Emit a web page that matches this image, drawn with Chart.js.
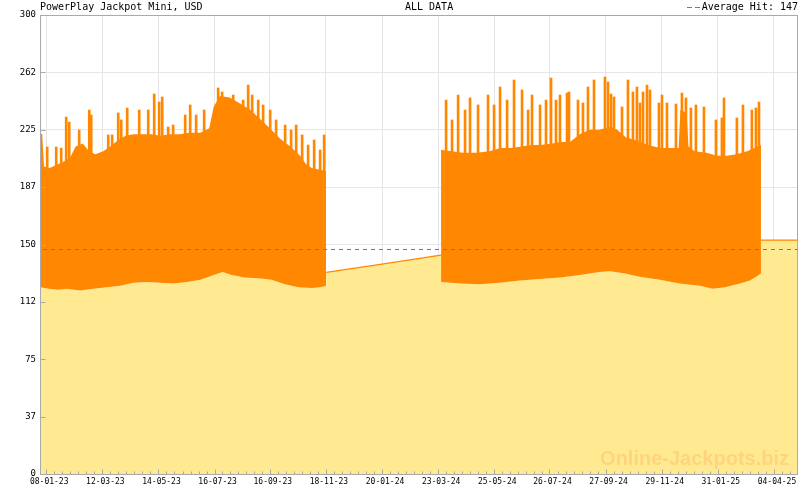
<!DOCTYPE html>
<html><head><meta charset="utf-8">
<script src="https://cdn.jsdelivr.net/npm/chart.js@4"></script>
<style>html,body{margin:0;padding:0;background:#fff}#wrap{width:800px;height:490px;position:relative}</style>
</head><body><div id="wrap"><canvas id="c" width="800" height="490"></canvas></div>
<script>
const TITLE = 'PowerPlay Jackpot Mini, USD';
const SUBTITLE = 'ALL DATA';
const LEGEND_LABEL = 'Average Hit: 147';
const WATERMARK = 'Online-Jackpots.biz';
const averageHit = 147;
const xTickLabels = ['08-01-23','12-03-23','14-05-23','16-07-23','16-09-23','18-11-23','20-01-24','23-03-24','25-05-24','26-07-24','27-09-24','29-11-24','31-01-25','04-04-25'];
const yTickValues = [0,37.5,75,112.5,150,187.5,225,262.5,300];
const endDay = 851; // days since 2023-01-01 (last data day, 01-05-25)

// All x values below: days since 2023-01-01
const topDays1 = [0,2.5,4.5,11,18,26,34,40,48,55,62,71,79,87,96,105,115,125,135,146,157,168,180,190,195,202,213,225,236,247,258,270,281,292,298,305,313,321.2];
const topVals1 = [223,222,201,200,202,204,207,214,216,211,209,211,214,218,221,222,222,222,221,222,222,223,223,226,240,247,246,242,238,232,226,219,214,208,203,200,199,198];
const lowDays1 = [0,10,20,30,45,60,75,90,105,120,135,150,165,180,195,205,215,230,245,260,275,290,305,315,321.2];
const lowVals1 = [122,121,120.5,121,120,121,122,123,125,125.5,125,124.5,125.5,127,130,132,130,128.5,128,127,124,122,121.5,122,123];
const gapDays = [321.3,382,450.2];
const gapVals = [131.8,137,143];
const topDays2 = [450.3,462,475,490,505,517,530,540,552,562,575,584,595,606,617,628,640,648,658,670,683,696,705,717,719,726,728,735,748,760,771,782,794,802,809.4];
const topVals2 = [212,211,210,210,211,213,213,214,215,215,216,217,217,222,225,225,227,225,220,218,215,213,213,213,238,236,214,211,210,208,208,209,211,213,215];
const lowDays2 = [450.3,472,494,516,539,561,584,606,628,640,657,673,696,718,741,755,769,786,797,804,809.4];
const lowVals2 = [125.5,124.5,124,125,126.5,127.5,128.5,130,132,132.5,131,129,127,124.5,123,121,122,124.5,126.5,129,131];
const endDays = [809.5,851];
const endVals = [152.9,152.9];
const spikeDays = [8.1,18.2,23.8,29.4,32.8,44,55.3,57.5,76.6,81,87.8,91.2,97.9,111.4,121.5,128.2,133.8,137.2,143.9,149.5,163,168.6,175.3,184.3,200,204.5,216.9,228.1,233.7,238.2,245,250.5,258.4,265.1,275.2,281.9,287.6,294.3,301,307.8,314.5,319,
  455.9,462.6,469.4,477.2,482.8,491.8,503,509.8,516.5,524.4,532.2,541.2,548,552.4,561.4,568.1,573.7,579.3,583.8,591.7,593.9,604,609.6,615.2,622,634.3,637.7,641.1,644.4,653.4,660.1,665.7,670.2,673.6,677,681.5,684.8,694.9,698.3,703.9,714,720.7,725.2,730.8,736.4,745.4,758.9,765.6,767.9,782.4,789.2,799.2,803.8,807.2];
const spikeVals = [213.7,213.7,213,233.3,230,224.8,237.9,234.6,221.6,221.6,236,231.4,239.2,237.9,237.9,248.4,243.1,246.4,226.8,228.1,234.6,241.2,234.6,237.9,252.3,249.7,247.7,244.4,254.2,247.7,244.4,241.2,237.9,231.4,228.1,224.8,228.1,221.6,215,218.3,211.8,221.6,
  244.4,231.4,247.7,237.9,245.8,241.2,247.7,241.2,252.9,244.4,257.5,251,237.9,247.7,241.2,244.4,258.8,244.4,247.7,249,249.7,244.4,242.5,252.9,257.5,259.5,256.2,248.4,246.4,239.9,257.5,249.7,252.9,242.5,249.7,254.2,251,242.5,247.7,242.5,241.8,249,245.8,239.2,241.2,239.9,231.4,232.7,245.8,232.7,241.2,237.9,239.2,243.1];

const ORANGE = '#FF8800';
const YELLOW = '#FFEA92';
const GRID = '#e6e6e6';
const AXIS = '#aaaaaa';
const AVG = '#2F8FC8';
const MONO = '"DejaVu Sans Mono", monospace';

const base0 = Date.UTC(2023,0,1);
function labelToDay(s){const [d,m,y]=s.split('-').map(Number);return (Date.UTC(2000+y,m-1,d)-base0)/86400000;}
const xTickDays = xTickLabels.map(labelToDay);
const pts = (xs, ys) => xs.map((x,i)=>({x, y: ys[i]}));

const bottomData = [...pts(lowDays1,lowVals1), ...pts(gapDays,gapVals), ...pts(lowDays2,lowVals2), ...pts(endDays,endVals)];
const bodyData = [...pts(topDays1,topVals1), {x:385,y:null}, ...pts(topDays2,topVals2)];
const lineData = [...pts(gapDays,gapVals), {x:630,y:null}, ...pts(endDays,endVals)];

const decor = {
  id: 'decor',
  afterDatasetsDraw(chart){
    const {ctx, chartArea:a, scales:{x, y}} = chart;
    ctx.save();
    // watermark
    ctx.font = 'bold 20px "Liberation Sans", Arial, sans-serif';
    ctx.fillStyle = '#FFD47F';
    ctx.textAlign = 'right'; ctx.textBaseline = 'alphabetic';
    ctx.fillText(WATERMARK, 789, 465);
    // average hit line (crisp), from the y scale
    const ay = Math.round(y.getPixelForValue(averageHit)) + 0.5;
    ctx.strokeStyle = AVG; ctx.lineWidth = 1; ctx.setLineDash([4,4]);
    ctx.beginPath(); ctx.moveTo(Math.round(x.getPixelForValue(0))+3, ay); ctx.lineTo(x.getPixelForValue(endDay), ay); ctx.stroke();
    ctx.setLineDash([]);
    // frame
    ctx.strokeStyle = AXIS; ctx.lineWidth = 1;
    ctx.strokeRect(Math.round(a.left)+0.5, Math.round(a.top)+0.5, Math.round(a.right-a.left)-1, Math.round(a.bottom-a.top));
    // x ticks (inward)
    ctx.beginPath();
    const yb = Math.round(a.bottom)+0.5;
    xTickDays.forEach((d,i)=>{
      const px = Math.round(x.getPixelForValue(d))+0.5;
      ctx.moveTo(px, yb); ctx.lineTo(px, yb-5);
      const nxt = i < xTickDays.length-1 ? xTickDays[i+1] : null;
      const step = nxt !== null ? (nxt-d)/7 : (d - xTickDays[i-1])/7;
      for (let k=1;k<7;k++){
        const dd = d + k*step;
        if (dd >= endDay) break;
        const mx = Math.round(x.getPixelForValue(dd))+0.5;
        ctx.moveTo(mx, yb); ctx.lineTo(mx, yb-3);
      }
    });
    const xl = Math.round(a.left)+0.5;
    yTickValues.forEach(v=>{
      const py = Math.round(y.getPixelForValue(v))+0.5;
      ctx.moveTo(xl, py); ctx.lineTo(xl+5, py);
    });
    ctx.stroke();
    ctx.restore();
  },
  afterDraw(chart){
    const {ctx} = chart;
    ctx.save();
    ctx.font = '10px ' + MONO;
    ctx.fillStyle = '#000';
    ctx.textBaseline = 'middle';
    ctx.textAlign = 'left';
    ctx.fillText(TITLE, 40, 7);
    ctx.fillText(SUBTITLE, 405, 7);
    ctx.textAlign = 'right';
    ctx.fillText(LEGEND_LABEL, 798, 7);
    ctx.strokeStyle = AVG; ctx.lineWidth = 1; ctx.setLineDash([5,3]);
    ctx.beginPath(); ctx.moveTo(687, 7.5); ctx.lineTo(701, 7.5); ctx.stroke();
    ctx.restore();
  }
};

new Chart(document.getElementById('c'), {
  type: 'line',
  data: {
    datasets: [
      { label: 'jackpot line', data: lineData, borderColor: ORANGE, borderWidth: 1.3, pointRadius: 0, fill: false, order: 1 },
      { type: 'bar', label: 'peaks', data: pts(spikeDays, spikeVals), base: 190, backgroundColor: ORANGE, borderWidth: 0, barThickness: 2, order: 2 },
      { label: 'jackpot range', data: bodyData, borderWidth: 0, pointRadius: 0, backgroundColor: ORANGE, fill: '+1', order: 3 },
      { label: 'jackpot low', data: bottomData, borderWidth: 0, pointRadius: 0, backgroundColor: YELLOW, fill: 'origin', order: 4 }
    ]
  },
  options: {
    responsive: false,
    animation: false,
    events: [],
    layout: { padding: { top: 15, right: 2, left: 0, bottom: 0 } },
    plugins: { legend: { display: false }, tooltip: { enabled: false }, title: { display: false } },
    scales: {
      x: {
        type: 'linear', min: 0, max: endDay, offset: false,
        grid: { color: GRID, drawTicks: false, offset: false },
        border: { display: false },
        afterBuildTicks: s => { s.ticks = xTickDays.map(v => ({ value: v })); },
        afterFit: s => { s.height = 16; },
        ticks: { autoSkip: false, maxRotation: 0, minRotation: 0, padding: 3, labelOffset: 3, color: '#000',
          font: { family: MONO, size: 8 }, callback: (v, i) => xTickLabels[i] }
      },
      y: {
        min: 0, max: 300,
        grid: { color: GRID, drawTicks: false },
        border: { display: false },
        afterBuildTicks: s => { s.ticks = yTickValues.map(v => ({ value: v })); },
        afterFit: s => { s.width = 40; },
        ticks: { padding: 4, color: '#000', font: { family: MONO, size: 9 }, callback: v => String(Math.floor(v)) }
      }
    }
  },
  plugins: [decor]
});
</script></body></html>
